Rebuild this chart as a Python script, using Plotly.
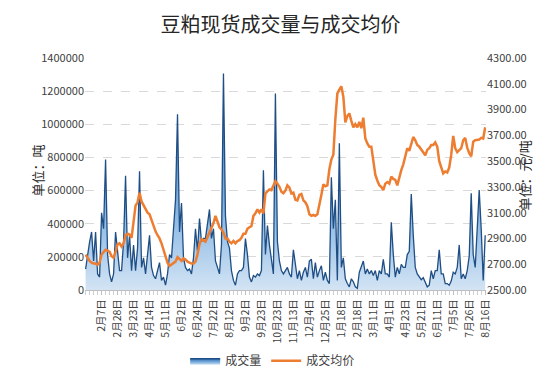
import plotly.graph_objects as go

title_text = "豆粕现货成交量与成交均价"
series_names = ["成交量", "成交均价"]
tick_labels = ["2月7日", "2月28日", "3月23日", "4月14日", "5月11日", "6月2日", "6月24日",
               "7月22日", "8月12日", "9月2日", "9月23日", "10月23日", "11月13日", "12月4日",
               "12月25日", "1月18日", "2月18日", "3月11日", "4月1日", "4月23日", "5月21日",
               "6月11日", "7月5日", "7月26日", "8月16日"]
points_per_label = 8

volume = [
    126000, 214000, 290000, 350000, 175000, 350000, 97000, 78000, 466000, 370000,
    787000, 214000, 97000, 49000, 97000, 350000, 214000, 117000, 117000, 290000,
    690000, 194000, 330000, 117000, 272000, 117000, 253000, 717000, 136000, 194000,
    97000, 214000, 330000, 136000, 87000, 68000, 117000, 165000, 58000, 78000,
    29000, 97000, 214000, 194000, 370000, 544000, 1060000, 350000, 525000, 194000,
    136000,
    117000, 126000, 97000, 194000, 370000, 233000, 431000, 292000, 311000, 311000,
    408000, 486000, 311000, 370000, 175000, 136000, 97000, 272000, 1307000, 447000,
    292000, 253000, 117000, 58000, 29000, 97000, 117000, 117000, 136000, 311000,
    214000, 78000, 49000, 87000, 78000, 97000, 87000, 117000, 723000, 214000,
    389000, 272000, 194000, 97000, 1186000, 292000, 175000, 117000, 97000, 117000,
    136000, 97000, 78000, 243000, 136000, 68000, 117000, 58000, 107000, 136000,
    78000, 175000, 185000, 68000, 165000, 78000, 117000, 146000, 58000, 107000,
    58000, 39000, 680000, 370000, 544000, 58000, 885000, 136000, 194000, 68000,
    39000, 19000, 68000, 49000, 19000, 10000, 107000, 136000, 175000, 97000,
    126000, 97000, 117000, 87000, 117000, 58000, 117000, 97000, 185000, 97000,
    97000, 78000, 408000, 214000, 78000, 136000, 97000, 155000, 136000, 136000,
    214000, 233000, 579000, 330000, 136000, 97000, 78000, 62000, 74000, 49000,
    19000, 29000, 117000, 68000, 117000, 117000, 243000, 97000, 97000, 39000,
    39000, 29000, 54000, 107000, 97000, 136000, 272000, 68000, 97000, 68000,
    117000, 204000, 583000, 214000, 136000, 370000, 603000, 370000, 58000, 330000,
]

avg_price = [
    2775, 2750, 2725, 2712, 2705, 2705, 2695, 2712, 2775, 2795,
    2812, 2805, 2795, 2762, 2750, 2795, 2855, 2862, 2837, 2862,
    2925, 2937, 2930, 2905, 3050, 3155, 3180, 3255, 3187, 3155,
    3120, 3100, 3087, 3037, 2995, 2955, 2925, 2900, 2862, 2812,
    2762, 2712, 2687, 2700, 2710, 2720, 2755, 2737, 2725, 2745,
    2737,
    2720, 2712, 2705, 2705, 2720, 2775, 2855, 2895, 2887, 2875,
    2912, 2945, 2980, 3020, 3075, 3025, 2987, 2970, 2945, 2900,
    2900, 2875, 2862, 2880, 2862, 2880, 2887, 2905, 2937, 2937,
    2975, 2987, 2995, 3075, 3095, 3125, 3100, 3125, 3095, 3250,
    3267, 3280, 3275, 3305, 3345, 3325, 3300, 3262, 3250, 3270,
    3312, 3295, 3250, 3255, 3200, 3195, 3237, 3245, 3195, 3180,
    3150, 3087, 3075, 3082, 3075, 3087, 3150, 3237, 3320, 3305,
    3312, 3437, 3512, 3550, 3825, 4025, 4055, 4080, 4000, 3800,
    3850, 3870, 3812, 3762, 3787, 3762, 3805, 3755, 3837, 3675,
    3637, 3612, 3612, 3487, 3395, 3350, 3312, 3300, 3275, 3325,
    3337, 3325, 3380, 3362, 3355, 3312, 3375, 3430, 3475, 3537,
    3600, 3580, 3637, 3687, 3662, 3625, 3612, 3587, 3570, 3545,
    3587, 3600, 3625, 3625, 3645, 3612, 3500, 3450, 3405, 3420,
    3412, 3450, 3550, 3695, 3600, 3570, 3587, 3600, 3662, 3680,
    3605, 3562, 3537, 3650, 3662, 3662, 3667, 3680, 3675, 3762,
]

x = list(range(len(volume)))
tickvals = [points_per_label * (k + 1) for k in range(len(tick_labels))]

font_cn = "Noto Sans CJK SC"
fig = go.Figure()
fig.add_trace(go.Scatter(
    x=x, y=volume, name=series_names[0], mode="lines",
    line=dict(color="#1f4e84", width=1.3),
    fill="tozeroy",
    fillgradient=dict(type="vertical", start=0, stop=1300000,
                      colorscale=[[0, "#d3e4f4"], [0.35, "#8ab8e4"], [1, "#2f6fb3"]]),
    yaxis="y",
))
fig.add_trace(go.Scatter(
    x=x, y=avg_price, name=series_names[1], mode="lines",
    line=dict(color="#ed7d31", width=2.5),
    yaxis="y2",
))

fig.update_layout(
    width=545, height=379,
    paper_bgcolor="white", plot_bgcolor="white",
    margin=dict(l=77, r=67, t=50, b=89),
    font=dict(family=font_cn, size=11, color="#404040"),
    title=dict(text=title_text, x=0.5, xref="container", xanchor="center",
               y=1 - 17 / 379, yref="container", yanchor="middle",
               font=dict(family=font_cn, size=20, color="#262626")),
    showlegend=True,
    legend=dict(orientation="h", x=0.468, xanchor="center", y=-0.305, yanchor="middle",
                font=dict(family=font_cn, size=12, color="#404040"),
                itemwidth=30, tracegroupgap=0),
    xaxis=dict(range=[-0.3, len(volume) - 0.6], tickmode="array", tickvals=tickvals,
               ticktext=tick_labels, tickangle=-90, showgrid=False, zeroline=False,
               showline=True, linecolor="#bfbfbf", linewidth=1,
               ticks="outside", ticklen=4, tickcolor="#bfbfbf",
               minor=dict(ticks="outside", dtick=2, ticklen=4, tickcolor="#d0d0d0"),
               tickfont=dict(family=font_cn, size=10.5, color="#404040")),
    yaxis=dict(range=[0, 1400000], dtick=200000, tickformat="d", showgrid=True,
               gridcolor="#d9d9d9", griddash="dash", zeroline=False, showline=False,
               ticks="", tickfont=dict(family=font_cn, size=11, color="#404040")),
    yaxis2=dict(range=[2500, 4300], tick0=2500, dtick=200, tickformat=".2f",
                overlaying="y", side="right", showgrid=False, zeroline=False,
                showline=False,
                tickfont=dict(family=font_cn, size=11, color="#404040")),
    annotations=[
        dict(text="单位：吨", x=18, y=167, xref="paper", yref="paper", showarrow=False,
             textangle=-90, font=dict(family=font_cn, size=13, color="#262626")),
        dict(text="单位：元/吨", x=528, y=172, xref="paper", yref="paper", showarrow=False,
             textangle=-90, font=dict(family=font_cn, size=13, color="#262626")),
    ],
)

# convert annotation pixel positions to paper coordinates
plot_w = 545 - 77 - 67
plot_h = 379 - 50 - 89
for ann in fig.layout.annotations:
    ann.x = (ann.x - 77) / plot_w
    ann.y = (379 - 89 - ann.y) / plot_h

fig.write_html("out.html")
